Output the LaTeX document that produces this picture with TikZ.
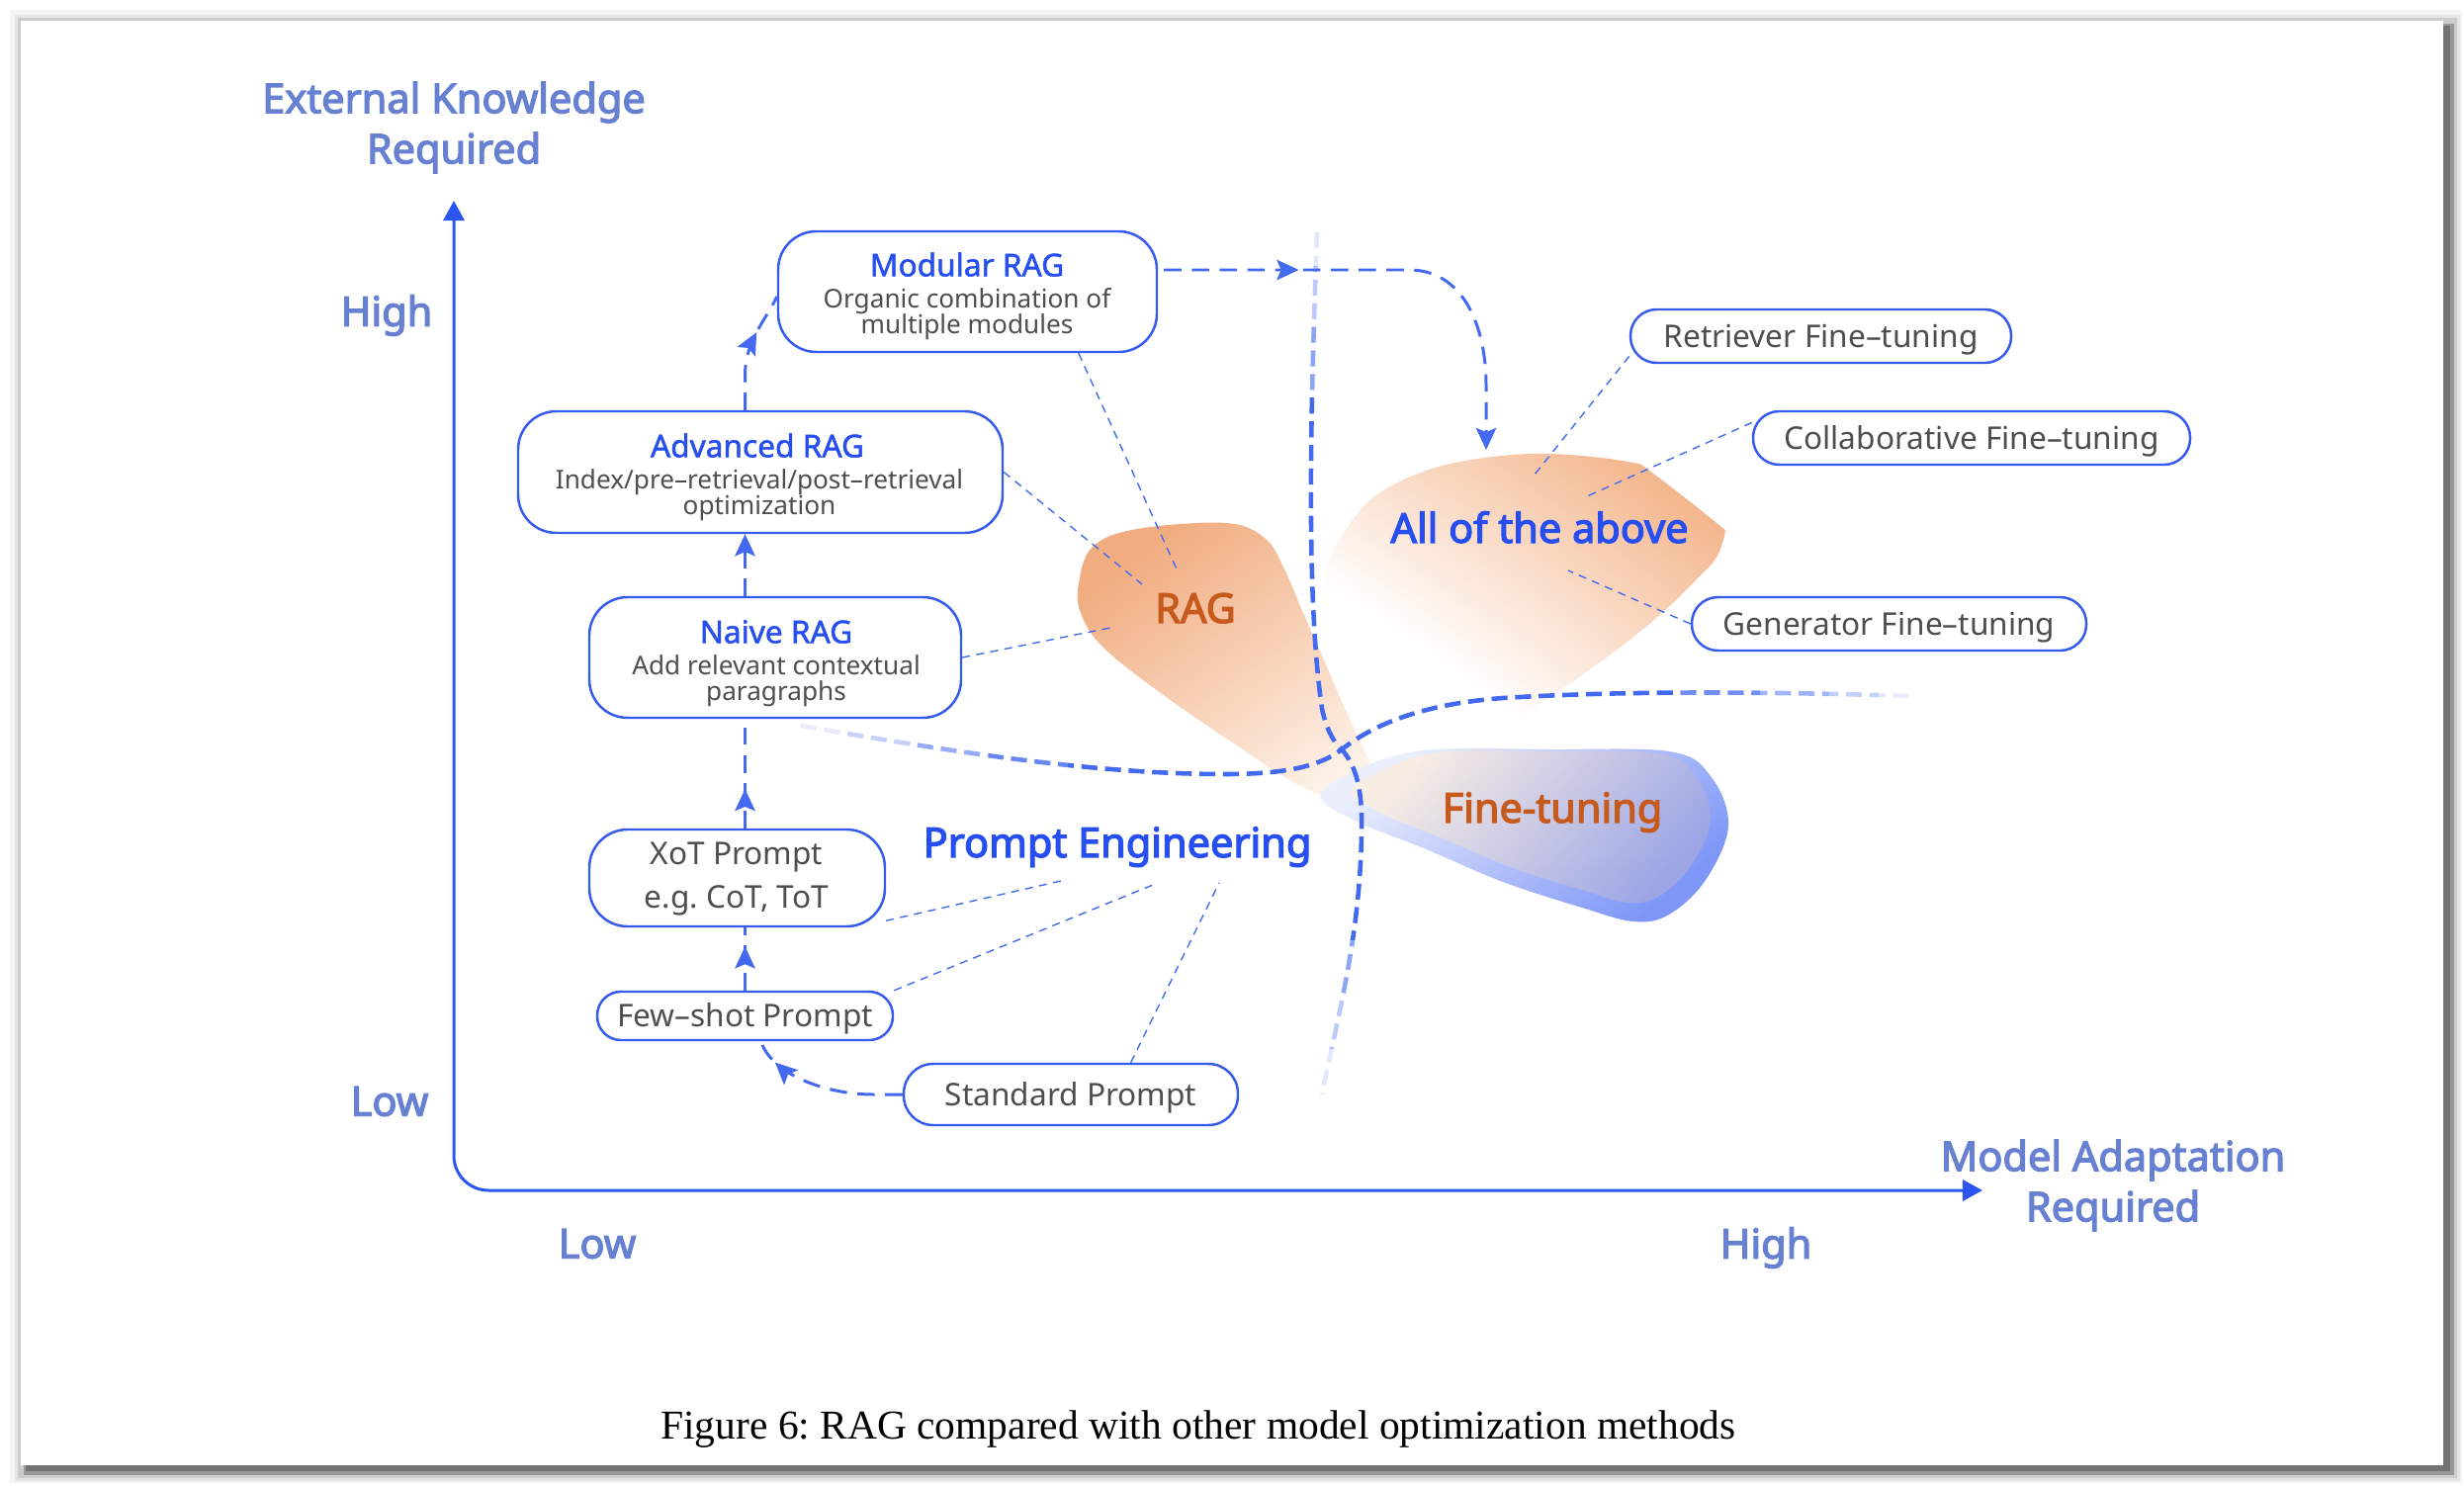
\documentclass[tikz,border=0pt]{standalone}
\usepackage{fontspec}
\setmainfont{Noto Sans}
\newfontfamily\lblfont{Noto Sans}[FakeBold=3]
\newfontfamily\ttlfont{Noto Sans}[FakeBold=1.5]
\newfontfamily\capfont{Liberation Serif}
\usetikzlibrary{arrows.meta,decorations.markings,calc}

\definecolor{axblue}{RGB}{44,86,243}
\definecolor{boxblue}{RGB}{52,90,240}
\definecolor{titleblue}{RGB}{38,78,240}
\definecolor{flowblue}{RGB}{66,105,240}
\definecolor{leadblue}{RGB}{70,108,238}
\definecolor{axlabel}{RGB}{104,128,210}
\definecolor{graytext}{RGB}{78,78,78}
\definecolor{ragtext}{RGB}{198,90,28}
\definecolor{orangeA}{RGB}{241,172,128}
\definecolor{orangeB}{RGB}{253,242,232}
\definecolor{orangeC}{RGB}{243,182,140}
\definecolor{ftblue}{RGB}{125,150,247}
\definecolor{ftrim}{RGB}{236,239,253}
\definecolor{ftlight}{RGB}{251,238,226}
\definecolor{ftmid}{RGB}{215,208,232}
\definecolor{ftdeep}{RGB}{160,168,228}

\pgfdeclareradialshading{allfade}{\pgfpointorigin}{color(0bp)=(white); color(21.9bp)=(white); color(25bp)=(orangeC); color(50bp)=(orangeC)}

\newcommand\tightlines{\lineskiplimit=-100pt\relax\lineskip=0pt\relax}
\newcommand\bodyfont{\fontsize{7.45}{7.4}\selectfont\tightlines}

\begin{document}
\frenchspacing
\begin{tikzpicture}[x=0.1mm, y=-0.1mm,
  box/.style={draw=boxblue, line width=0.7pt, fill=white, inner sep=0pt, rounded corners=11pt},
  pill/.style={box, rounded corners=7.5pt, text=graytext, font=\fontsize{9}{10.5}\selectfont,
    text height=6.5pt, text depth=0pt},
  ttl/.style={text=titleblue, font=\ttlfont\fontsize{9}{10}\selectfont, inner sep=0pt, text height=6.5pt, text depth=0pt},
  bdy/.style={text=graytext, font=\bodyfont, align=center, inner sep=0pt},
  flow/.style={draw=flowblue, line width=0.85pt, dash pattern=on 5pt off 3pt},
  lead/.style={draw=leadblue, line width=0.4pt, dash pattern=on 2.3pt off 1.8pt},
  bigcurve/.style={draw=flowblue, line width=1.3pt, dash pattern=on 4.6pt off 2.2pt},
  midarrow/.style={postaction={decorate}, decoration={markings,
    mark=at position #1 with {\arrow{Stealth[length=6.3pt,width=5.8pt,inset=1.2pt]}}}},
  axlbl/.style={text=axlabel, font=\lblfont\fontsize{11.8}{14.5}\selectfont, align=center},
  biglbl/.style={font=\lblfont\fontsize{11.8}{13}\selectfont, text height=8.5pt, text depth=0pt}
]
\useasboundingbox (0,0) rectangle (2492,1503);

% page with shadow
\fill[black!4] (10,10) rectangle (2490,1500);
\fill[black!10] (15,15) rectangle (2488,1498);
\fill[black!20] (18,18) rectangle (2485,1495);
\fill[black!40] (24,24) rectangle (2482,1492);
\fill[black!55] (26,26) rectangle (2478,1488);
\fill[white] (21,21) rectangle (2471,1482);

% blob: all of the above
\begin{scope}
  \clip plot[smooth cycle, tension=0.7] coordinates {(1340,600) (1365,530) (1420,485) (1510,462) (1610,462) (1700,482) (1740,515) (1740,555) (1712,590) (1662,636) (1590,690) (1520,735) (1470,762) (1420,740) (1370,690)};
  \shade[shading=allfade] (300,2300) circle (2280);
\end{scope}
% blob: RAG
\shade[top color=orangeA, bottom color=orangeB, shading angle=35]
  plot[smooth cycle, tension=0.6] coordinates {(1091,590) (1105,553) (1150,535) (1240,529) (1280,545) (1300,578) (1318,620) (1338,665) (1358,712) (1385,770) (1405,815) (1375,818) (1315,795) (1254,756) (1178,704) (1116,655) (1093,620)};
% blob: fine-tuning (rim + inner)
\shade[top color=ftrim, bottom color=ftblue, shading angle=40]
  plot[smooth cycle, tension=0.6] coordinates {(1420,762) (1480,757) (1560,758) (1688,760) (1730,785) (1748,835) (1725,890) (1688,925) (1652,932) (1600,918) (1520,892) (1440,858) (1370,830) (1335,805) (1370,780)};
\shade[top color=ftlight, middle color=ftmid, bottom color=ftdeep, shading angle=50, opacity=0.9]
  plot[smooth cycle, tension=0.6] coordinates {(1442,763) (1494,759) (1565,760) (1677,762) (1714,784) (1730,828) (1710,876) (1677,907) (1646,913) (1600,900) (1530,878) (1459,848) (1398,823) (1367,801) (1398,779)};

% big crossing curves with faded ends
\foreach \ya/\yb/\op in {0/270/0.15, 270/330/0.35, 330/400/0.6, 400/950/1, 950/1010/0.6, 1010/1060/0.35, 1060/1503/0.15}{
  \begin{scope}
    \clip (0,\ya) rectangle (2492,\yb);
    \draw[bigcurve, opacity=\op] (1332,235) .. controls (1326,400) and (1320,600) .. (1337,717)
      .. controls (1342,740) and (1350,752) .. (1357,758)
      .. controls (1372,775) and (1378,800) .. (1377,840)
      .. controls (1376,950) and (1350,1040) .. (1337,1107);
  \end{scope}
}
\foreach \xa/\xb/\op in {0/850/0.12, 850/920/0.3, 920/1000/0.55, 1000/1080/0.8, 1080/1700/1, 1700/1780/0.75, 1780/1850/0.5, 1850/1900/0.3, 1900/2492/0.12}{
  \begin{scope}
    \clip (\xa,0) rectangle (\xb,1503);
    \draw[bigcurve, opacity=\op] (810,734) .. controls (950,758) and (1100,783) .. (1239,783)
      .. controls (1300,783) and (1335,775) .. (1357,758)
      .. controls (1390,732) and (1440,712) .. (1520,706)
      .. controls (1650,698) and (1800,700) .. (1935,704);
  \end{scope}
}

% axes
\coordinate (ytop) at (459,203);
\coordinate (orig) at (459,1204);
\coordinate (xend) at (2005,1204);
\draw[axblue, line width=0.85pt, rounded corners=10pt,
  {Triangle[length=5.7pt,width=6pt]}-{Triangle[length=5.7pt,width=6pt]}] (ytop) -- (orig) -- (xend);

% axis labels
\node[axlbl] (ytitle) at (459,129) {External Knowledge\\Required};
\node[axlbl] (yhigh) at (391,319) {High};
\node[axlbl] (ylow) at (394,1114) {Low};
\node[axlbl] (xlow) at (604,1258) {Low};
\node[axlbl] (xhigh) at (1786,1262) {High};
\node[axlbl] (xtitle) at (2137,1199) {Model Adaptation\\Required};

% boxes
\node[box, minimum width=38.3mm, minimum height=12.2mm] (modular) at (978.5,295) {};
\node[ttl] (modularT) at (978,268) {Modular RAG};
\node[bdy] (modularB) at (978,318) {Organic combination of\\multiple modules};

\node[box, minimum width=49mm, minimum height=12.3mm] (advanced) at (769,477.5) {};
\node[ttl] (advancedT) at (766,451) {Advanced RAG};
\node[bdy] (advancedB) at (768,501) {Index/pre–retrieval/post–retrieval\\optimization};

\node[box, minimum width=37.6mm, minimum height=12.2mm] (naive) at (784,665) {};
\node[ttl] (naiveT) at (785,639) {Naive RAG};
\node[bdy] (naiveB) at (785,689) {Add relevant contextual\\paragraphs};

\node[box, minimum width=29.9mm, minimum height=9.8mm] (xot) at (745.5,888) {};
\node[text=graytext, font=\fontsize{9}{12.3}\selectfont, align=center, inner sep=0pt] (xotT) at (745,889) {XoT Prompt\\e.g. CoT, ToT};

\node[pill, rounded corners=6.8pt, minimum width=29.9mm, minimum height=4.9mm] (fewshot) at (753.5,1027.5) {Few–shot Prompt};
\node[pill, rounded corners=8.5pt, minimum width=33.8mm, minimum height=6.2mm] (standard) at (1083,1107) {Standard Prompt};
\node[pill, minimum width=38.5mm, minimum height=5.4mm] (retriever) at (1841.5,340) {Retriever Fine–tuning};
\node[pill, minimum width=44.2mm, minimum height=5.4mm] (collab) at (1994,443) {Collaborative Fine–tuning};
\node[pill, minimum width=39.9mm, minimum height=5.4mm] (generator) at (1910.5,631) {Generator Fine–tuning};

% region labels
\node[biglbl, text=titleblue] (pe) at (1130,852) {Prompt Engineering};
\node[biglbl, text=titleblue] (allab) at (1557,534) {All of the above};
\node[biglbl, text=ragtext] (rag) at (1209,615) {RAG};
\node[biglbl, text=ragtext] (ft) at (1570,817) {Fine-tuning};

% flow arrows
\draw[flow, midarrow=0.7] (fewshot.north) -- (fewshot.north |- xot.south);
\draw[flow, midarrow=0.36] (fewshot.north |- xot.north) -- (fewshot.north |- naive.south);
\draw[flow, -{Stealth[length=6.3pt,width=5.8pt,inset=1.2pt]}] (fewshot.north |- naive.north) -- (fewshot.north |- advanced.south);
\draw[flow, midarrow=0.66] (fewshot.north |- advanced.north) -- ++(0,-35)
  .. controls +(0,-35) and +(-12,25) .. ($(modular.west)+(0,5)$);
\coordinate (arrowend) at (1503,455);
\draw[flow, midarrow=0.29, -{Stealth[length=6.3pt,width=5.8pt,inset=1.2pt]}] ($(modular.east)+(6,-22)$) -- (1425,273)
  .. controls (1480,273) and (1503,330) .. (1503,390) -- (arrowend);
\draw[flow, midarrow=0.84] (standard.west) -- ++(-30,0)
  .. controls +(-45,0) and +(12,35) .. ($(fewshot.south)+(16,0)$);

% leader lines
\coordinate (lrag1) at (1192,580);
\coordinate (lrag2) at (1155,591);
\coordinate (lrag3) at (1128,634);
\coordinate (lpe1) at (1073,891);
\coordinate (lpe2) at (1171,893);
\coordinate (lpe3) at (1233,893);
\coordinate (lall1) at (1552,480);
\coordinate (lall2) at (1605,502);
\coordinate (lall3) at (1586,577);
\draw[lead] (modular.-29) -- (lrag1);
\draw[lead] (advanced.east) -- (lrag2);
\draw[lead] (naive.east) -- (lrag3);
\draw[lead] (xot.-16) -- (lpe1);
\draw[lead] (fewshot.north east) -- (lpe2);
\draw[lead] (standard.28) -- (lpe3);
\draw[lead] (retriever.186) -- (lall1);
\draw[lead] (collab.176) -- (lall2);
\draw[lead] (generator.west) -- (lall3);

% caption
\node[font=\capfont\fontsize{11.8}{13}\selectfont] (caption) at (1212,1446)
  {Figure 6: RAG compared with other model optimization methods};
\end{tikzpicture}
\end{document}
